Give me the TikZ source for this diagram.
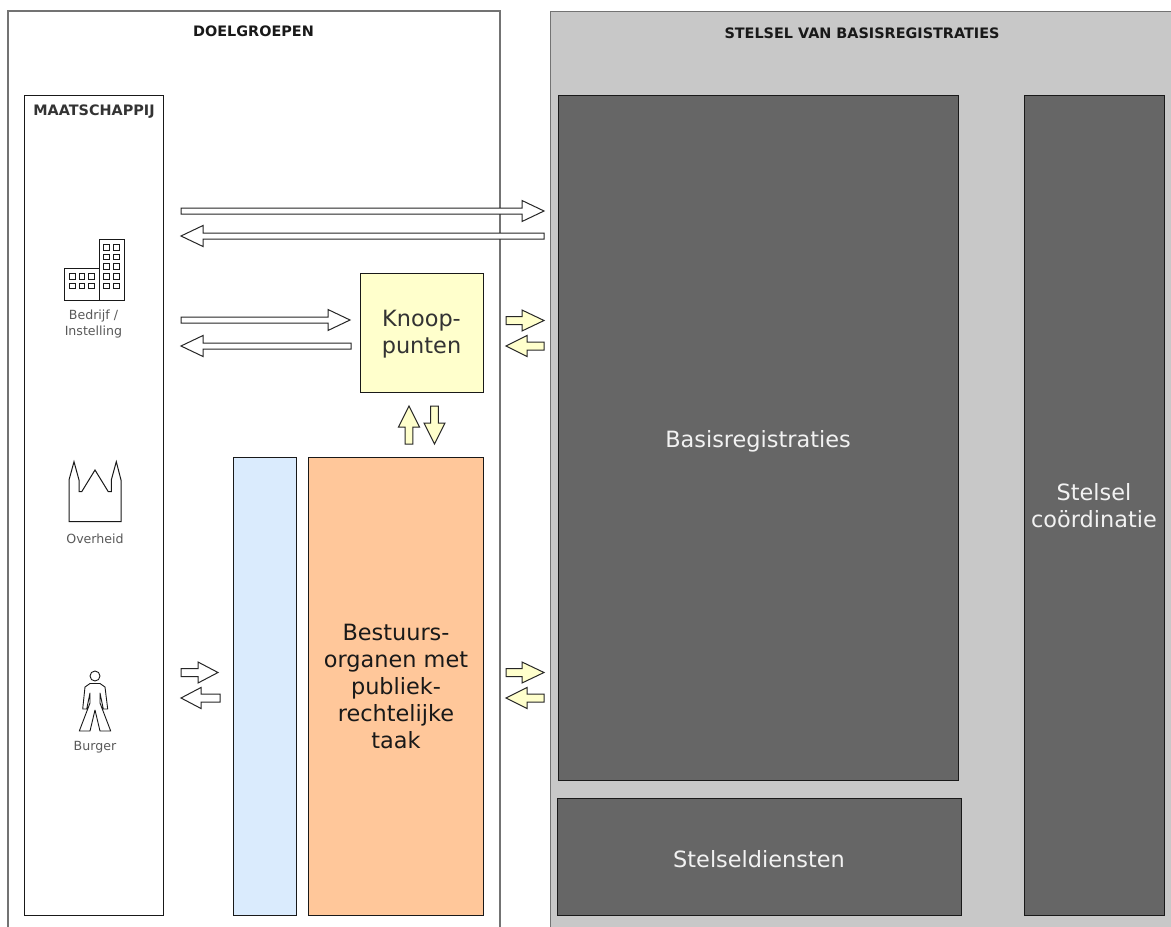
\documentclass[tikz,border=0pt]{standalone}
\usepackage{fontspec}
\setmainfont{DejaVu Sans}
\definecolor{txt}{HTML}{333333}
\definecolor{panelgrey}{HTML}{C8C8C8}
\definecolor{darkbox}{HTML}{666666}
\definecolor{blue1}{HTML}{DAEBFD}
\definecolor{orange1}{HTML}{FFC79A}
\definecolor{yellow1}{HTML}{FFFFCC}
\newcommand{\fsz}[2]{\fontsize{#1pt}{#2pt}\selectfont}
\newcommand{\harrow}[7][white]{\filldraw[blockarrow,fill=#1] (#2,#5-#6) -- (#3,#5-#6) -- (#3,#5-#7) -- (#4,#5) -- (#3,#5+#7) -- (#3,#5+#6) -- (#2,#5+#6) -- cycle;}
\newcommand{\varrow}[7][white]{\filldraw[blockarrow,fill=#1] (#5-#6,#2) -- (#5-#6,#3) -- (#5-#7,#3) -- (#5,#4) -- (#5+#7,#3) -- (#5+#6,#3) -- (#5+#6,#2) -- cycle;}
\tikzset{
  blockarrow/.style={draw=black!85,line width=1pt,line join=miter},
  panel/.style={draw=black!55,line width=1.2pt},
  box/.style={draw=black!90,line width=1.3pt,anchor=north west,inner sep=0pt},
  darkb/.style={box,fill=darkbox},
  bigtext/.style={align=center,inner sep=0pt,font=\fsz{22.4}{27}},
  title/.style={font=\bfseries\fsz{14.4}{16},text=black!90,inner sep=0pt},
  iconlabel/.style={font=\fsz{12.6}{15.7},text=black!65,inner sep=0pt,align=center},
  icon/.style={draw=black!90,line width=1pt,line join=miter},
  thinicon/.style={draw=black!90,line width=0.9pt}
}
\begin{document}
\begin{tikzpicture}[x=1pt,y=-1pt]
\useasboundingbox (0,0) rectangle (1171,927);
\fill[white] (0,0) rectangle (1171,927);
% panels
\draw[panel] (8,935) -- (8,11) -- (500,11) -- (500,935);
\filldraw[fill=panelgrey,draw=black!55,line width=1pt] (550,935) -- (550,11) -- (1180,11) -- (1180,935) -- cycle;
\node[title] (doel) at (253.5,31) {DOELGROEPEN};
\node[title] (stelsel) at (862,33.5) {STELSEL VAN BASISREGISTRATIES};
% boxes
\node[box,minimum width=139pt,minimum height=820pt] (maat) at (24,95) {};
\node[title,text=txt] (maatt) at (94,111.5) {MAATSCHAPPIJ};
\node[box,fill=blue1,minimum width=63pt,minimum height=458pt] (blauw) at (233,457) {};
\node[box,fill=orange1,minimum width=175pt,minimum height=458pt] (best) at (308,457) {};
\node[bigtext,text=black!90] (bestt) at (396,686) {Bestuurs-\\organen met\\publiek-\\rechtelijke\\taak};
\node[box,fill=yellow1,minimum width=123pt,minimum height=119pt] (knoop) at (360,273) {};
\node[bigtext,text=txt] (knoopt) at (421.5,334.5) {Knoop-\\punten};
\node[darkb,minimum width=400pt,minimum height=685pt] (basis) at (558,95) {};
\node[bigtext,text=black!5] (basist) at (758,441) {Basisregistraties};
\node[darkb,minimum width=404pt,minimum height=117pt] (diensten) at (557,798) {};
\node[bigtext,text=black!5] (dienstent) at (759,859) {Stelseldiensten};
\node[darkb,minimum width=140pt,minimum height=820pt] (coord) at (1024,95) {};
\node[bigtext,text=black!5] (coordt) at (1094,506) {Stelsel\\coördinatie};
% block arrows
\harrow{181}{522}{544}{211}{3}{10.5}
\harrow{544}{203}{181}{236}{3}{10.5}
\harrow{181}{328}{350}{320}{3}{10.5}
\harrow{351}{203}{181}{346}{3}{10.5}
\harrow{181}{198}{218}{672.5}{4}{10.5}
\harrow{220}{201}{181}{698}{4}{10.5}
\harrow[yellow1]{506}{522}{544}{320.5}{4}{10.5}
\harrow[yellow1]{544}{527}{506}{346}{4}{10.5}
\harrow[yellow1]{506}{522}{544}{672.5}{4}{10.5}
\harrow[yellow1]{544}{527}{506}{698}{4}{10.5}
\varrow[yellow1]{444}{427}{406}{409}{3.8}{10.5}
\varrow[yellow1]{406}{423}{444}{434.5}{3.8}{10.5}
% building icon
\draw[icon] (64.5,268) rectangle (99,300.5);
\draw[icon] (99,239.5) rectangle (124,300.5);
\foreach \yy in {244.5,254,263.5,273.5,283}{
  \draw[thinicon] (103.5,\yy) rectangle +(5.7,5.7);
  \draw[thinicon] (113.3,\yy) rectangle +(5.7,5.7);
}
\foreach \xx in {69.5,79,88.5}{
  \draw[thinicon] (\xx,273.5) rectangle +(5.7,5.7);
  \draw[thinicon] (\xx,283) rectangle +(5.7,5.7);
}
\node[iconlabel] (bedrijf) at (93.5,324) {Bedrijf /\\Instelling};
% church icon
\draw[icon] (69,521.7) -- (69,480) -- (74,461.7) -- (79,480) -- (79,491.7) -- (81.7,491.7) -- (95,470) -- (108.3,491.7) -- (111.3,491.7) -- (111.3,480) -- (116.3,461.7) -- (121,480) -- (121,521.7) -- cycle;
\node[iconlabel] (overheid) at (95,538.5) {Overheid};
% person icon
\draw[thinicon] (95,676) circle (5);
\draw[thinicon,line join=round] (90,683.5) -- (100,683.5) -- (105,687) -- (107.7,709) -- (103.3,709) -- (100,693) -- (100,703) -- (110.7,731) -- (100,731) -- (95,710) -- (90,731) -- (79.3,731) -- (90,703) -- (90,693) -- (86.7,709) -- (82.7,709) -- (85,687) -- cycle;
\node[iconlabel] (burger) at (95,747) {Burger};
\end{tikzpicture}
\end{document}
